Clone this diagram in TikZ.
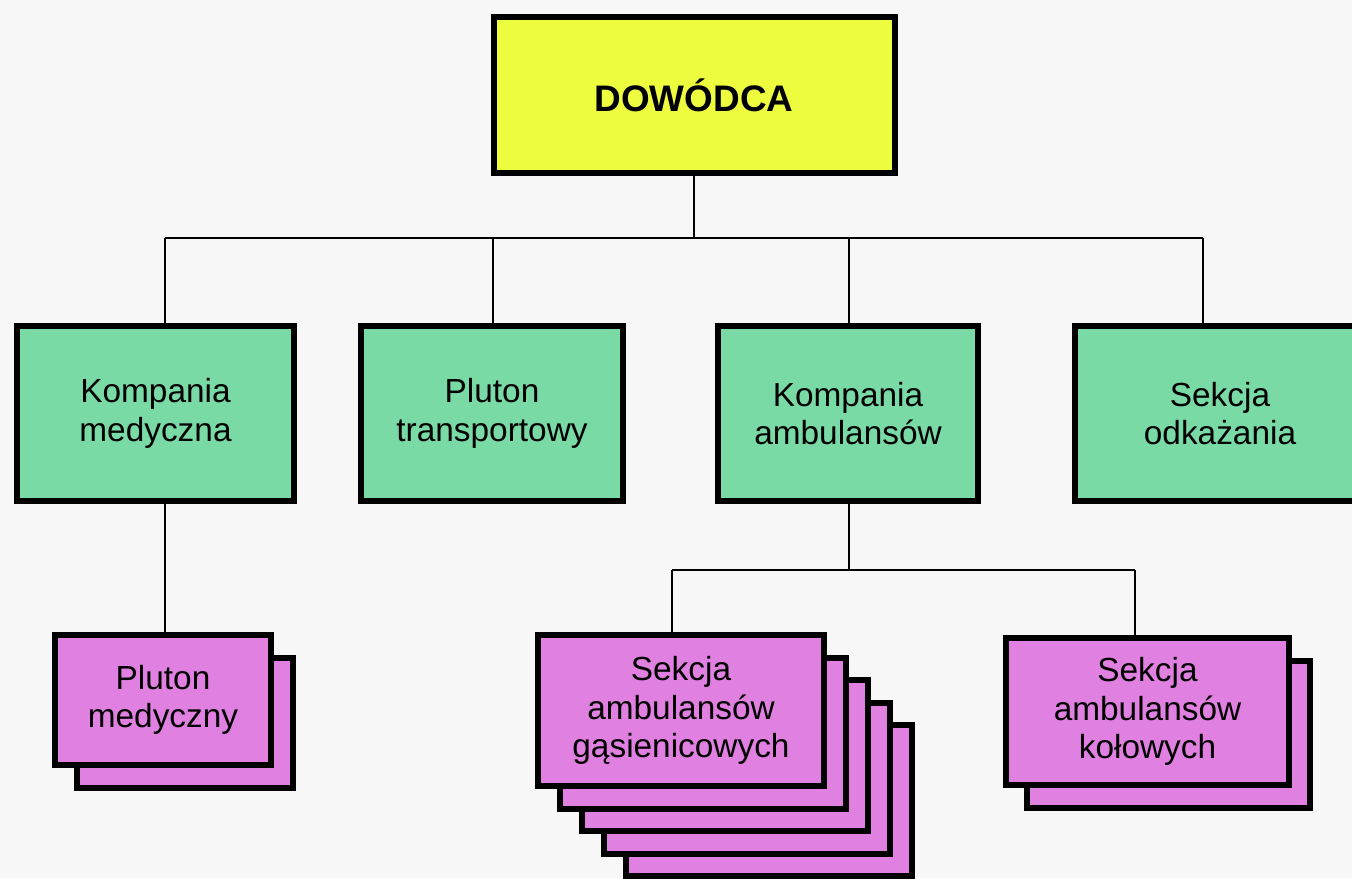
\documentclass[tikz,border=0pt]{standalone}
\usepackage{fontspec}
\setmainfont{Liberation Sans}
\definecolor{headyellow}{RGB}{238,252,64}
\definecolor{unitgreen}{RGB}{122,218,166}
\definecolor{subpink}{RGB}{224,128,224}
\definecolor{paper}{RGB}{247,247,247}

\begin{document}
\begin{tikzpicture}[x=0.2mm,y=-0.2mm]
        \tikzstyle{every node}=[rectangle, draw=black, line width=1.2mm, inner sep=0pt, align=center, font=\fontsize{19}{22}\selectfont, text=black]
        \tikzstyle{head}=[fill=headyellow, minimum width=80.2mm, minimum height=31.2mm, font=\fontsize{21}{24}\selectfont\bfseries]
        \tikzstyle{unit}=[fill=unitgreen, minimum height=35mm]
        \tikzstyle{sub}=[fill=subpink]
        \tikzstyle{edge}=[black, line width=0.4mm]

        \fill[paper] (0,0) rectangle (1352,878);
        \useasboundingbox (0,0) rectangle (1352,878);

        \node[head] (dowodca) at (694,95) {DOWÓDCA};

        \node[unit, minimum width=55.4mm] (kmed)   at (155.5,413.5) {Kompania\\medyczna};
        \node[unit, minimum width=52.4mm] (ptrans) at (492,413.5)   {Pluton\\transportowy};
        \node[unit, minimum width=52mm]   (kamb)   at (848,413.5)   {Kompania\\ambulansów};
        \node[unit, minimum width=58mm]   (sodk)   at (1220,413.5)  {Sekcja\\odkażania};

        \tikzstyle{pmedbox}=[sub, minimum width=43.2mm, minimum height=26mm]
        \node[pmedbox] (pmed1) at (185,723) {};
        \node[pmedbox] (pmed)  at (163,700) {Pluton\\medyczny};

        \tikzstyle{sgasbox}=[sub, minimum width=57.2mm, minimum height=30.2mm]
        \node[sgasbox] (sgas4) at (769,800.5) {};
        \node[sgasbox] (sgas3) at (747,778)   {};
        \node[sgasbox] (sgas2) at (725,755.5) {};
        \node[sgasbox] (sgas1) at (703,733)   {};
        \node[sgasbox] (sgas)  at (681,710.5) {Sekcja\\ambulansów\\gąsienicowych};

        \tikzstyle{skolbox}=[sub, minimum width=56.6mm, minimum height=29.4mm]
        \node[skolbox] (skol1) at (1168.5,734.5) {};
        \node[skolbox] (skol)  at (1147.5,711.5) {Sekcja\\ambulansów\\kołowych};

        \coordinate (bus) at (694,238);
        \coordinate (b1) at (165,238);
        \coordinate (b2) at (493,238);
        \coordinate (b3) at (849,238);
        \coordinate (b4) at (1203,238);
        \coordinate (bus2) at (849,570);
        \coordinate (g1) at (672,570);
        \coordinate (g2) at (1135,570);

        \draw[edge] (dowodca) -- (bus);
        \draw[edge] (b1) -- (b4);
        \draw[edge] (b1) -- (b1 |- kmed.north);
        \draw[edge] (b2) -- (b2 |- ptrans.north);
        \draw[edge] (b3) -- (b3 |- kamb.north);
        \draw[edge] (b4) -- (b4 |- sodk.north);

        \draw[edge] (b1 |- kmed.south) -- (b1 |- pmed.north);

        \draw[edge] (bus2 |- kamb.south) -- (bus2);
        \draw[edge] (g1) -- (g2);
        \draw[edge] (g1) -- (g1 |- sgas.north);
        \draw[edge] (g2) -- (g2 |- skol.north);
    \end{tikzpicture}
\end{document}
